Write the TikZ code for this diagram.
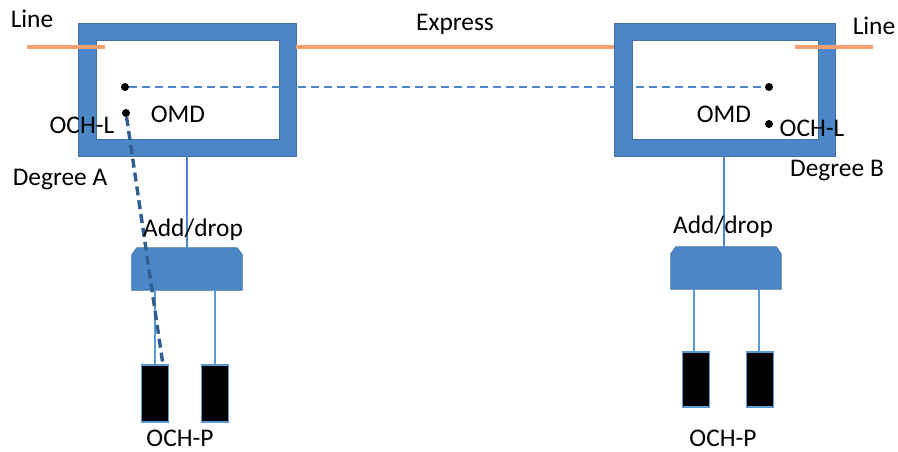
\documentclass[tikz,border=0pt]{standalone}
\usepackage{fontspec}
\setmainfont{Carlito}
\usetikzlibrary{calc}
\definecolor{boxblue}{HTML}{4A86C8}
\definecolor{edgeblue}{HTML}{41719C}
\definecolor{thinblue}{HTML}{5B9BD5}
\definecolor{darkdash}{HTML}{2F5F8F}
\definecolor{lineorange}{HTML}{F4A070}
\begin{document}
\begin{tikzpicture}[x=1bp,y=-1bp,
  lbl/.style={anchor=base,inner sep=0pt,font=\fontsize{25.5}{28}\selectfont},
  degbox/.style={draw=edgeblue,line width=0.8bp,fill=boxblue,inner sep=0pt},
  degin/.style={draw=edgeblue,line width=0.8bp,fill=white,inner sep=0pt},
  adbox/.style={inner sep=0pt,minimum width=110bp,minimum height=42bp},
  adfill/.style={draw=edgeblue,line width=0.8bp,fill=boxblue},
  ochp/.style={draw=thinblue,line width=1.2bp,fill=black,inner sep=0pt,minimum width=27bp,minimum height=57bp},
  dot/.style={circle,fill=black,inner sep=0pt,minimum size=8bp},
  orange/.style={draw=lineorange,line width=4bp},
  trunk/.style={draw=boxblue,line width=2.8bp},
  leg/.style={draw=thinblue,line width=1.6bp},
  expr/.style={draw=boxblue,line width=2.6bp,dash pattern=on 8bp off 5bp},
  och/.style={draw=darkdash,line width=3.4bp,dash pattern=on 9bp off 5bp}]
\useasboundingbox (0,0) rectangle (898,452);
% Degree boxes
\node[degbox,minimum width=218bp,minimum height=133bp] (boxA) at (187,89.5) {};
\node[degin,minimum width=183bp,minimum height=99bp] (inA) at (187.5,89.5) {};
\node[degbox,minimum width=221bp,minimum height=133bp] (boxB) at (724.5,89.5) {};
\node[degin,minimum width=186bp,minimum height=99bp] (inB) at (725,89.5) {};
% line ends
\coordinate (lA1) at (27,47);
\coordinate (lA2) at (105,47);
\coordinate (lB1) at (795,47);
\coordinate (lB2) at (873,47);
\coordinate (eA) at (296,47);
\coordinate (eB) at (614,47);
\draw[orange] (lA1) -- (lA2);
\draw[orange] (lB1) -- (lB2);
\draw[orange] (eA) -- (eB);
% add/drop
\node[adbox] (adA) at (187,269) {};
\node[adbox] (adB) at (726,268) {};
\foreach \n in {adA,adB}{
  \draw[adfill] (\n.south west) -- ($(\n.north west)+(0,7)$) -- ($(\n.north west)+(5,0)$)
    -- ($(\n.north east)+(-5,0)$) -- ($(\n.north east)+(0,7)$) -- (\n.south east) -- cycle;
}
\draw[trunk] (boxA.south -| adA.north) -- (adA.north);
\draw[trunk] (boxB.south -| 724,0) -- (724,247);
% OCH-P
\node[ochp] (pA1) at (155,393.5) {};
\node[ochp] (pA2) at (215,393.5) {};
\node[ochp,minimum height=55bp] (pB1) at (696,379.5) {};
\node[ochp,minimum height=55bp] (pB2) at (760,379.5) {};
\draw[leg] (adA.south -| pA1.north) -- (pA1.north);
\draw[leg] (adA.south -| pA2.north) -- (pA2.north);
\draw[leg] (adB.south -| 694,0) -- (694,352);
\draw[leg] (adB.south -| 759,0) -- (759,352);
% dots
\node[dot] (dA1) at (125,87) {};
\node[dot] (dA2) at (126,113) {};
\node[dot] (dB1) at (769,87) {};
\node[dot] (dB2) at (769,124) {};
\coordinate (pAtop) at (163,365);
\draw[expr] (dA1) -- (dB1);
\draw[och] (dA2) -- (pAtop);
% labels
\node[lbl] (tLineA) at (32,28) {Line};
\node[lbl] (tExpr) at (455,31) {Express};
\node[lbl] (tLineB) at (874,35) {Line};
\node[lbl] (tOmdA) at (178,123) {OMD};
\node[lbl] (tOchLA) at (82,134) {OCH-L};
\node[lbl] (tDegA) at (60,186) {Degree A};
\node[lbl] (tOmdB) at (724,123) {OMD};
\node[lbl] (tOchLB) at (812,137) {OCH-L};
\node[lbl] (tDegB) at (837,177) {Degree B};
\node[lbl] (tAdA) at (193,237) {Add/drop};
\node[lbl] (tAdB) at (723,234) {Add/drop};
\node[lbl] (tPA) at (180,446) {OCH-P};
\node[lbl] (tPB) at (723,446) {OCH-P};
\end{tikzpicture}
\end{document}
